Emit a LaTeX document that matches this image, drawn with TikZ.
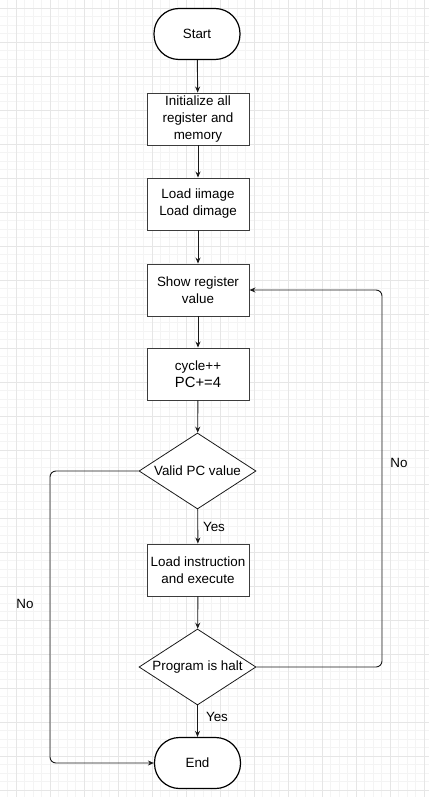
\documentclass[tikz,border=0pt]{standalone}
\usepackage{fontspec}
\setmainfont{Liberation Sans}
\usetikzlibrary{shapes.geometric,arrows.meta}
\definecolor{gridminor}{HTML}{F4F4F4}
\definecolor{gridmajor}{HTML}{E6E6E6}
\definecolor{edge}{HTML}{1A1A1A}
\tikzset{
  every node/.style={font=\fontsize{13.4}{17}\selectfont, text=black},
  procbox/.style={draw=edge!85, line width=0.9pt, fill=white, minimum width=102pt, minimum height=52pt, align=center, inner sep=1pt},
  term/.style={draw=black, line width=1.2pt, fill=white, rounded corners=25pt, minimum width=86pt, minimum height=51pt, align=center},
  decision/.style={draw=edge, line width=0.8pt, fill=white, diamond, aspect=1.54, minimum width=117pt, minimum height=76pt, inner sep=0pt, align=center},
  flow/.style={draw=edge, line width=0.9pt, -{Stealth[length=6pt,width=5pt]}},
  lbl/.style={inner sep=1pt}
}
\begin{document}
\begin{tikzpicture}[x=1pt,y=-1pt]
\useasboundingbox (0,0) rectangle (429,797);
\fill[white] (0,0) rectangle (429,797);
\foreach \i in {0,...,51} {
  \draw[gridminor, line width=0.6pt] ({-1+8.5*\i},0) -- ({-1+8.5*\i},797);
}
\foreach \i in {0,...,94} {
  \draw[gridminor, line width=0.6pt] (0,{-0.5+8.5*\i}) -- (429,{-0.5+8.5*\i});
}
\foreach \j in {0,...,12} {
  \draw[gridmajor, line width=0.7pt] ({16+34*\j},0) -- ({16+34*\j},797);
}
\foreach \j in {0,...,23} {
  \draw[gridmajor, line width=0.7pt] (0,{8+34*\j}) -- (429,{8+34*\j});
}

\node[term] (start) at (197,34) {Start};
\node[procbox] (init) at (198,119) {Initialize all\\register and\\memory};
\node[procbox] (load) at (198,204) {Load iimage\\Load dimage};
\node[procbox] (show) at (198,290) {Show register\\value};
\node[procbox] (cyc) at (198,374) {cycle++\\{\fontsize{14.8}{17}\selectfont PC+=4}};
\node[decision] (valid) at (197.5,471) {Valid PC value};
\node[procbox] (exec) at (198,570) {Load instruction\\and execute};
\node[decision] (halt) at (197.5,667) {Program is halt};
\node[term] (end) at (197.5,763) {End};

\coordinate (lc) at (50,471);
\coordinate (rc) at (382,667);

\draw[flow] (start) -- (init);
\draw[flow] (init) -- (load);
\draw[flow] (load) -- (show);
\draw[flow] (show) -- (cyc);
\draw[flow] (cyc) -- (valid);
\draw[flow] (valid) -- (exec);
\draw[flow] (exec) -- (halt);
\draw[flow] (halt) -- (end);
\draw[flow, rounded corners=6pt] (valid.west) -- (lc) |- (end.west);
\draw[flow, rounded corners=6pt] (halt.east) -- (rc) |- (show.east);

\node[lbl] (yes1) at (214,527) {Yes};
\node[lbl] (yes2) at (217,717) {Yes};
\node[lbl] (nol) at (25,604) {No};
\node[lbl] (nor) at (399,463) {No};
\end{tikzpicture}
\end{document}
